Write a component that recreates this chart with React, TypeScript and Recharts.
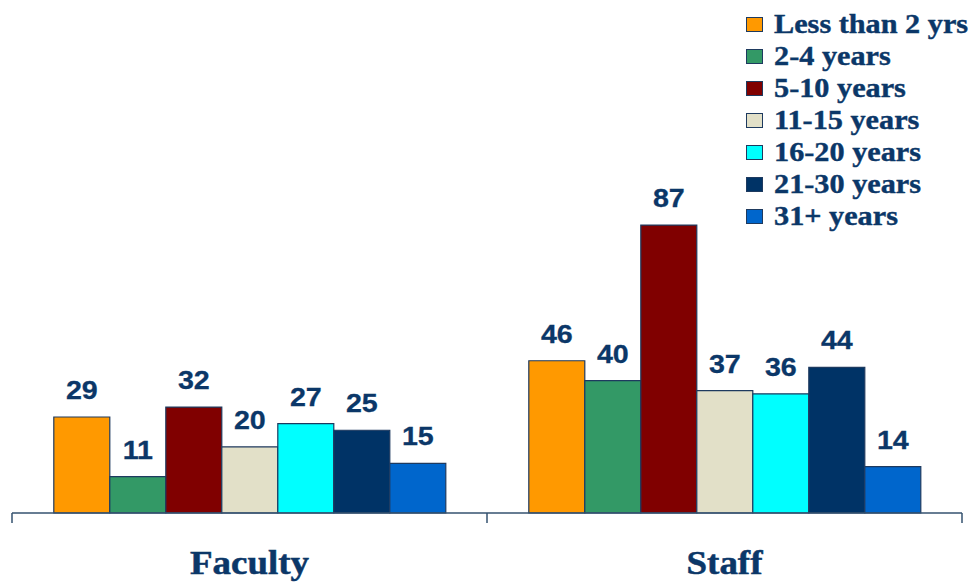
import React from 'react';
import { BarChart, Bar, XAxis, YAxis, LabelList } from 'recharts';

const categories = ['Faculty', 'Staff'];
const seriesNames = [
  'Less than 2 yrs',
  '2-4 years',
  '5-10 years',
  '11-15 years',
  '16-20 years',
  '21-30 years',
  '31+ years',
];
const lessThan2 = [29, 46];
const years2to4 = [11, 40];
const years5to10 = [32, 87];
const years11to15 = [20, 37];
const years16to20 = [27, 36];
const years21to30 = [25, 44];
const years31plus = [15, 14];

const seriesValues = [lessThan2, years2to4, years5to10, years11to15, years16to20, years21to30, years31plus];
const colors = ['#FF9900', '#339966', '#800000', '#E2E0C8', '#00FFFF', '#003366', '#0066CC'];
const keys = ['s0', 's1', 's2', 's3', 's4', 's5', 's6'];

const data = categories.map((c, i) => {
  const row: any = { name: c };
  keys.forEach((k, j) => {
    row[k] = seriesValues[j][i];
  });
  return row;
});

const NAVY = '#0B3768';
const AXIS = '#34526F';
const SERIF = '"Liberation Serif", "Times New Roman", serif';
const SANS = '"Liberation Sans", Arial, sans-serif';

const CategoryTick = (props: any) => {
  const { x, y, payload, index, visibleTicksCount } = props;
  const off = payload && payload.offset != null ? payload.offset : 0;
  const isLast = index === (visibleTicksCount != null ? visibleTicksCount - 1 : categories.length - 1);
  return (
    <g>
      <line x1={x - off} y1={y} x2={x - off} y2={y + 10} stroke={AXIS} strokeWidth={1.5} />
      {isLast && <line x1={x + off} y1={y} x2={x + off} y2={y + 10} stroke={AXIS} strokeWidth={1.5} />}
      <text
        transform={`translate(${x},${y + 61}) scale(1.12,1)`}
        x={0}
        y={0}
        textAnchor="middle"
        fill={NAVY}
        stroke={NAVY}
        strokeWidth={0.5}
        fontFamily={SERIF}
        fontWeight="bold"
        fontSize={33}
      >
        {payload.value}
      </text>
    </g>
  );
};

const ValueLabel = (props: any) => {
  const { x, y, width, value } = props;
  return (
    <text
      transform={`translate(${x + width / 2},${y - 18}) scale(1.08,1)`}
      x={0}
      y={0}
      textAnchor="middle"
      fill={NAVY}
      stroke={NAVY}
      strokeWidth={0.3}
      fontFamily={SANS}
      fontWeight="bold"
      fontSize={26.5}
    >
      {value}
    </text>
  );
};

export default function App() {
  return (
    <div style={{ position: 'absolute', left: 0, top: 0, width: 972, height: 582, background: '#fff' }}>
      <BarChart
        width={972}
        height={582}
        data={data}
        margin={{ top: 182, right: 10, bottom: 0, left: 12 }}
        barCategoryGap="8.8%"
        barGap={0}
      >
        <YAxis hide domain={[0, 100]} width={0} />
        <XAxis
          dataKey="name"
          height={69}
          tickSize={0}
          tickMargin={0}
          tickLine={false}
          axisLine={{ stroke: AXIS, strokeWidth: 1.5 }}
          tick={<CategoryTick />}
          interval={0}
        />
        {keys.map((k, j) => (
          <Bar
            key={k}
            dataKey={k}
            name={seriesNames[j]}
            fill={colors[j]}
            stroke="#1E3A5F"
            strokeWidth={1.2}
            isAnimationActive={false}
          >
            <LabelList dataKey={k} content={<ValueLabel />} />
          </Bar>
        ))}
      </BarChart>
      <div style={{ position: 'absolute', left: 746, top: 8 }}>
        {seriesNames.map((n, j) => (
          <div key={n} style={{ height: 32, display: 'flex', alignItems: 'center' }}>
            <div
              style={{
                width: 15,
                height: 13,
                background: colors[j],
                border: '1.5px solid #1E3A5F',
                marginRight: 11,
                flexShrink: 0,
              }}
            />
            <span
              style={{
                fontFamily: SERIF,
                fontWeight: 'bold',
                fontSize: 27.5,
                color: NAVY,
                lineHeight: '32px',
                whiteSpace: 'nowrap',
                display: 'inline-block',
                transform: 'scaleX(1.1)',
                transformOrigin: 'left center',
                WebkitTextStroke: '0.4px #0B3768',
              }}
            >
              {n}
            </span>
          </div>
        ))}
      </div>
    </div>
  );
}
